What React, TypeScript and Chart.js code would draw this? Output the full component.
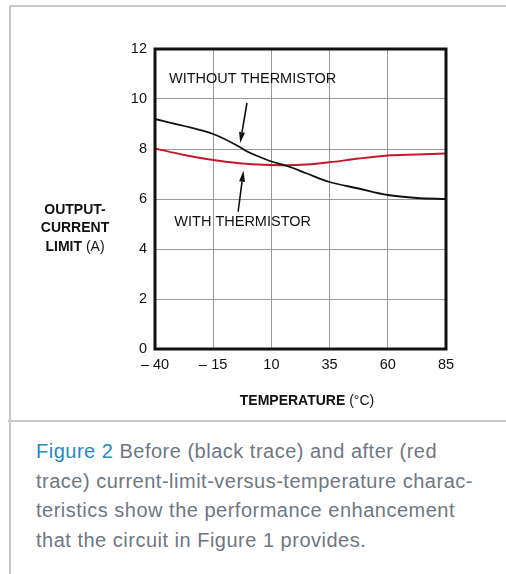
import React, { useEffect, useRef } from "react";
import { Chart, registerables } from "chart.js";

Chart.register(...registerables);

const temperatures = [-40, -27.5, -15, -3.6, -1, 4, 10, 17, 25, 35, 47.5, 60, 72.5, 85];
const withoutThermistor = [9.2, 8.92, 8.6, 8.08, 7.93, 7.72, 7.5, 7.31, 7.03, 6.68, 6.42, 6.16, 6.04, 6.0];
const withThermistor = [8.02, 7.76, 7.56, 7.43, 7.41, 7.38, 7.36, 7.35, 7.38, 7.47, 7.62, 7.74, 7.78, 7.82];
const xTickLabels = ["\u2013 40", "\u2013 15", "10", "35", "60", "85"];
const yTickValues = [0, 2, 4, 6, 8, 10, 12];

const FONT = "'Liberation Sans', Arial, Helvetica, sans-serif";

// annotation anchors in data units
const labelWithout = { text: "WITHOUT THERMISTOR", x: -34, y: 10.8 };
const arrowWithout = { from: [-0.5, 9.84], to: [-3.4, 8.24] };
const labelWith = { text: "WITH THERMISTOR", x: -31.7, y: 5.08 };
const arrowWith = { from: [-4.3, 5.49], to: [-2.0, 7.13] };

const extrasPlugin = {
  id: "extras",
  afterDatasetsDraw(chart: any) {
    const { ctx, chartArea, scales } = chart;
    const { left, top, right, bottom } = chartArea;
    const xs = scales.x;
    const ys = scales.y;
    ctx.save();
    // plot frame
    ctx.strokeStyle = "#111";
    ctx.lineWidth = 3;
    ctx.strokeRect(left, top, right - left, bottom - top);

    // annotation labels
    ctx.fillStyle = "#111";
    ctx.font = `14.5px ${FONT}`;
    ctx.textAlign = "left";
    ctx.textBaseline = "middle";
    ctx.fillText(labelWithout.text, xs.getPixelForValue(labelWithout.x), ys.getPixelForValue(labelWithout.y));
    ctx.fillText(labelWith.text, xs.getPixelForValue(labelWith.x), ys.getPixelForValue(labelWith.y));

    const drawArrow = (a: any) => {
      const x1 = xs.getPixelForValue(a.from[0]);
      const y1 = ys.getPixelForValue(a.from[1]);
      const x2 = xs.getPixelForValue(a.to[0]);
      const y2 = ys.getPixelForValue(a.to[1]);
      const ang = Math.atan2(y2 - y1, x2 - x1);
      const hl = 11;
      const hw = 3;
      const bx = x2 - hl * Math.cos(ang);
      const by = y2 - hl * Math.sin(ang);
      ctx.strokeStyle = "#111";
      ctx.lineWidth = 1.6;
      ctx.beginPath();
      ctx.moveTo(x1, y1);
      ctx.lineTo(bx, by);
      ctx.stroke();
      ctx.beginPath();
      ctx.moveTo(x2, y2);
      ctx.lineTo(bx + hw * Math.sin(ang), by - hw * Math.cos(ang));
      ctx.lineTo(bx - hw * Math.sin(ang), by + hw * Math.cos(ang));
      ctx.closePath();
      ctx.fill();
    };
    drawArrow(arrowWithout);
    drawArrow(arrowWith);

    // y-axis title
    ctx.textAlign = "center";
    ctx.textBaseline = "middle";
    ctx.font = `bold 14px ${FONT}`;
    ctx.fillText("OUTPUT-", 75, 210);
    ctx.fillText("CURRENT", 75, 228);
    const drawMixed = (bold: string, normal: string, cx: number, cy: number) => {
      ctx.font = `bold 14px ${FONT}`;
      const wb = ctx.measureText(bold).width;
      ctx.font = `14px ${FONT}`;
      const wn = ctx.measureText(normal).width;
      const start = cx - (wb + wn) / 2;
      ctx.textAlign = "left";
      ctx.font = `bold 14px ${FONT}`;
      ctx.fillText(bold, start, cy);
      ctx.font = `14px ${FONT}`;
      ctx.fillText(normal, start + wb, cy);
      ctx.textAlign = "center";
    };
    drawMixed("LIMIT ", "(A)", 75, 247);
    drawMixed("TEMPERATURE ", "(\u00B0C)", 307, 401);
    ctx.restore();
  },
};

export default function App() {
  const ref = useRef<HTMLCanvasElement>(null);
  useEffect(() => {
    if (!ref.current) return;
    const chart = new Chart(ref.current, {
      type: "line",
      data: {
        datasets: [
          {
            label: "Without thermistor",
            data: temperatures.map((t, i) => ({ x: t, y: withoutThermistor[i] })),
            borderColor: "#111111",
            borderWidth: 1.8,
            pointRadius: 0,
            cubicInterpolationMode: "monotone",
            fill: false,
          },
          {
            label: "With thermistor",
            data: temperatures.map((t, i) => ({ x: t, y: withThermistor[i] })),
            borderColor: "#c4172c",
            borderWidth: 1.8,
            pointRadius: 0,
            cubicInterpolationMode: "monotone",
            fill: false,
          },
        ],
      },
      options: {
        responsive: false,
        animation: false,
        layout: { padding: { left: 115, right: 60, top: 49, bottom: 41 } },
        plugins: { legend: { display: false }, tooltip: { enabled: false }, title: { display: false } },
        scales: {
          x: {
            type: "linear",
            min: -40,
            max: 85,
            ticks: {
              stepSize: 25,
              autoSkip: false,
              maxRotation: 0,
              padding: 7,
              color: "#111",
              font: { size: 14.5, family: FONT },
              callback: (_v: any, i: number) => xTickLabels[i],
            },
            grid: { color: "#999999", lineWidth: 1, drawTicks: false },
            border: { display: false },
            afterFit: (s: any) => {
              s.height = 30;
            },
          },
          y: {
            type: "linear",
            min: 0,
            max: 12,
            afterBuildTicks: (axis: any) => {
              axis.ticks = yTickValues.map((v) => ({ value: v }));
            },
            ticks: {
              padding: 8,
              color: "#111",
              font: { size: 14.5, family: FONT },
            },
            grid: { color: "#999999", lineWidth: 1, drawTicks: false },
            border: { display: false },
            afterFit: (s: any) => {
              s.width = 40;
            },
          },
        },
      },
      plugins: [extrasPlugin],
    } as any);
    return () => chart.destroy();
  }, []);

  return (
    <div style={{ position: "absolute", left: 0, top: 0, width: 506, height: 574, background: "#fff", overflow: "hidden" }}>
      <div style={{ position: "absolute", left: 10, top: 5, width: 496, height: 2, background: "#c9c9c9" }} />
      <div style={{ position: "absolute", left: 9, top: 5, width: 2, height: 569, background: "#c9c9c9" }} />
      <div style={{ position: "absolute", left: 8, top: 420, width: 498, height: 2, background: "#c9c9c9" }} />
      <canvas ref={ref} width={506} height={420} style={{ position: "absolute", left: 0, top: 0 }} />
      <div
        style={{
          position: "absolute",
          left: 36,
          top: 437,
          font: `20px ${FONT}`,
          letterSpacing: "0.5px",
          lineHeight: "29.5px",
          color: "#6e7781",
          whiteSpace: "pre",
        }}
      >
        <span style={{ color: "#2389c7" }}>Figure 2</span>
        {" Before (black trace) and after (red\ntrace) current-limit-versus-temperature charac-\nteristics show the performance enhancement\nthat the circuit in Figure 1 provides."}
      </div>
    </div>
  );
}
